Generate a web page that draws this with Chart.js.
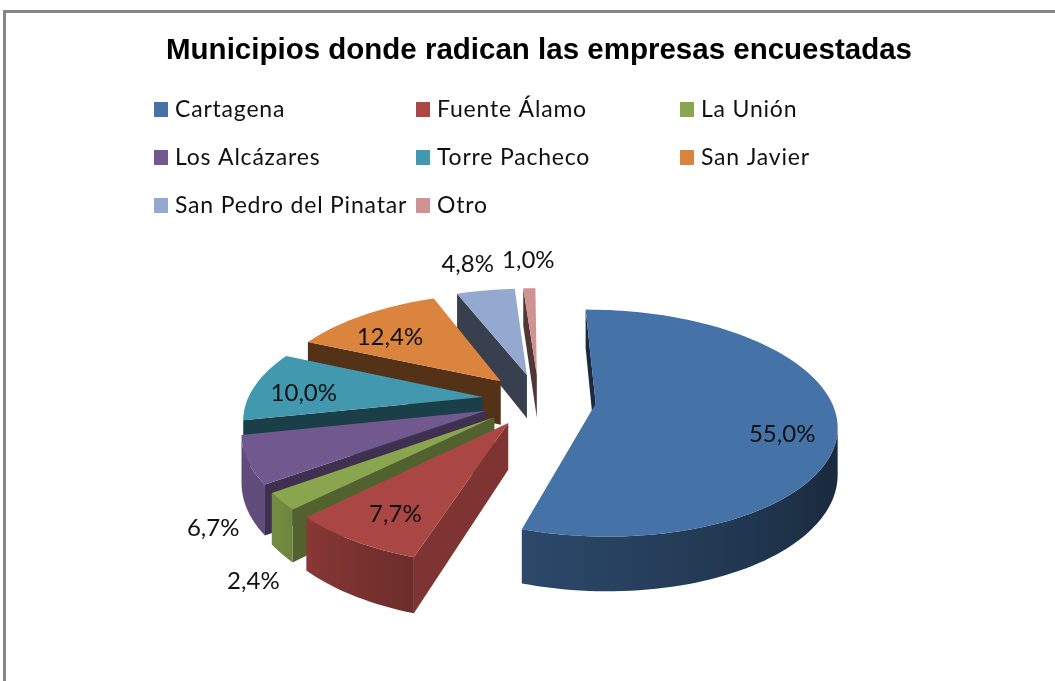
<!DOCTYPE html>
<html lang="es">
<head>
<meta charset="utf-8">
<title>Municipios</title>
<script src="https://cdn.jsdelivr.net/npm/chart.js@4"></script>
<style>
    html, body { margin: 0; padding: 0; background: #fff; overflow: hidden; }
    #frame { position: absolute; left: 3px; top: 10px; width: 1052px; height: 671px;
             border-left: 3px solid #868686; border-top: 3px solid #868686; }
    canvas { position: absolute; left: 0; top: 0; }
</style>
</head>
<body>
<div id="frame"></div>
<canvas id="pie" width="1055" height="681"></canvas>
<script>
// Data
const titleText = "Municipios donde radican las empresas encuestadas";
const municipios = ["Cartagena", "Fuente Álamo", "La Unión", "Los Alcázares", "Torre Pacheco", "San Javier", "San Pedro del Pinatar", "Otro"];
const porcentajes = [55.0, 7.7, 2.4, 6.7, 10.0, 12.4, 4.8, 1.0];
const colores = ["#4572A7", "#AA4643", "#89A54E", "#71588F", "#4198AF", "#DB843D", "#93A9CF", "#D19392"];

// Where each % label sits: fraction of the radius, then a nudge in px
const labelRadius = [0.74, 0.70, 1, 1, 0.76, 0.70, 1, 1];
const labelNudgeX = [9, -10, -28, -34, -5, -12, -18, -1];
const labelNudgeY = [18, 13, 80, 68, 5, 4, -26, -28];

// Legend layout
const legendCols = [154, 416, 680];
const legendRows = [102, 150, 198];

// --- Fake 3D: perspective of the pie plane ---
const tilt = 0.463;
const viewDist = 1377;
const wallHeight = 45;

function project(arc, u, v) {
    const w = 1 - v / viewDist;
    return { x: arc.x + u / w, y: arc.y + tilt * v / w, drop: wallHeight / w };
}

function shade(hex, f) {
    const n = parseInt(hex.slice(1), 16);
    const r = Math.round((n >> 16 & 255) * f);
    const g = Math.round((n >> 8 & 255) * f);
    const b = Math.round((n & 255) * f);
    return `rgb(${r},${g},${b})`;
}

// angle in degrees clockwise from north
function northDeg(a) {
    return ((a * 180 / Math.PI + 90) % 360 + 360) % 360;
}

function outerShade(deg) {
    if (deg < 120) return 0.38;
    if (deg < 198) return 0.38 + (deg - 120) * 0.0033;
    return Math.min(0.85, 0.64 + (deg - 198) * 0.006);
}

function edgeShade(deg) {
    if (deg < 190) return 0.38;
    return Math.max(0.38, 0.74 - (deg - 198) * 0.0054);
}

// the straight side of a slice, only if it faces us
function drawEdge(ctx, a, b, color) {
    if (b.x >= a.x) return;
    ctx.fillStyle = color;
    ctx.beginPath();
    ctx.moveTo(a.x, a.y);
    ctx.lineTo(b.x, b.y);
    ctx.lineTo(b.x, b.y + b.drop);
    ctx.lineTo(a.x, a.y + a.drop);
    ctx.closePath();
    ctx.fill();
}

// the curved side: the part of the rim running right to left is visible
function drawRimWall(ctx, rim, color) {
    let i = 0;
    while (i < rim.length - 1) {
        if (rim[i + 1].x >= rim[i].x) { i++; continue; }
        let j = i + 1;
        while (j < rim.length - 1 && rim[j + 1].x < rim[j].x) j++;
        const run = rim.slice(i, j + 1);
        const x0 = run[0].x, x1 = run[run.length - 1].x;
        const grad = ctx.createLinearGradient(x0, 0, x1, 0);
        run.forEach(p => {
            grad.addColorStop((p.x - x0) / (x1 - x0), shade(color, outerShade(northDeg(p.angle))));
        });
        ctx.fillStyle = grad;
        ctx.beginPath();
        run.forEach((p, k) => k ? ctx.lineTo(p.x, p.y) : ctx.moveTo(p.x, p.y));
        for (let k = run.length - 1; k >= 0; k--) ctx.lineTo(run[k].x, run[k].y + run[k].drop);
        ctx.closePath();
        ctx.fill();
        i = j;
    }
}

function drawSlice(ctx, arc, color) {
    const mid = (arc.startAngle + arc.endAngle) / 2;
    const cu = Math.cos(mid) * arc.options.offset;
    const cv = Math.sin(mid) * arc.options.offset;
    const tip = project(arc, cu, cv);

    const rim = [];
    const steps = Math.max(2, Math.ceil((arc.endAngle - arc.startAngle) / 0.03));
    for (let i = 0; i <= steps; i++) {
        const a = arc.startAngle + (arc.endAngle - arc.startAngle) * i / steps;
        const p = project(arc, cu + Math.cos(a) * arc.outerRadius, cv + Math.sin(a) * arc.outerRadius);
        p.angle = a;
        rim.push(p);
    }

    // walls first, the top face covers what is left over
    drawEdge(ctx, tip, rim[0], shade(color, edgeShade(northDeg(arc.startAngle))));
    drawRimWall(ctx, rim, color);

    ctx.fillStyle = color;
    ctx.beginPath();
    ctx.moveTo(tip.x, tip.y);
    rim.forEach(p => ctx.lineTo(p.x, p.y));
    ctx.closePath();
    ctx.fill();
}

const pie3d = {
    id: "pie3d",
    beforeDatasetsDraw(chart) {
        const ctx = chart.ctx;
        const arcs = chart.getDatasetMeta(0).data;
        ctx.save();
        // back to front
        for (let i = arcs.length - 1; i >= 0; i--) {
            drawSlice(ctx, arcs[i], colores[i]);
        }

        // percent labels
        ctx.fillStyle = "#111";
        ctx.font = '24px Lato';
        ctx.textAlign = "center";
        ctx.textBaseline = "middle";
        arcs.forEach((arc, i) => {
            const mid = (arc.startAngle + arc.endAngle) / 2;
            const rho = arc.options.offset + arc.outerRadius * labelRadius[i];
            const p = project(arc, Math.cos(mid) * rho, Math.sin(mid) * rho);
            const txt = porcentajes[i].toFixed(1).replace(".", ",") + "%";
            ctx.fillText(txt, p.x + labelNudgeX[i], p.y + labelNudgeY[i]);
        });

        // legend, three columns
        ctx.textAlign = "left";
        ctx.font = '23px Lato';
        ctx.letterSpacing = "0.8px";
        municipios.forEach((name, i) => {
            const x = legendCols[i % 3];
            const y = legendRows[Math.floor(i / 3)];
            ctx.fillStyle = colores[i];
            ctx.fillRect(x, y, 14, 15);
            ctx.fillStyle = "#111";
            ctx.fillText(name, x + 21, y + 8);
        });
        ctx.restore();
        return false;
    }
};

new Chart(document.getElementById("pie").getContext("2d"), {
    type: "pie",
    data: {
        labels: municipios,
        datasets: [{
            data: porcentajes,
            backgroundColor: colores,
            borderWidth: 0,
            offset: 57
        }]
    },
    plugins: [pie3d],
    options: {
        responsive: false,
        animation: false,
        rotation: -0.5,
        radius: 235,
        layout: { padding: { left: 23 } },
        plugins: {
            legend: { display: false },
            tooltip: { enabled: false },
            title: {
                display: true,
                text: titleText,
                color: "#000",
                font: { family: "Liberation Sans", size: 29.5, weight: "bold" },
                padding: { top: 33, bottom: 50 }
            }
        }
    }
});
</script>
</body>
</html>
